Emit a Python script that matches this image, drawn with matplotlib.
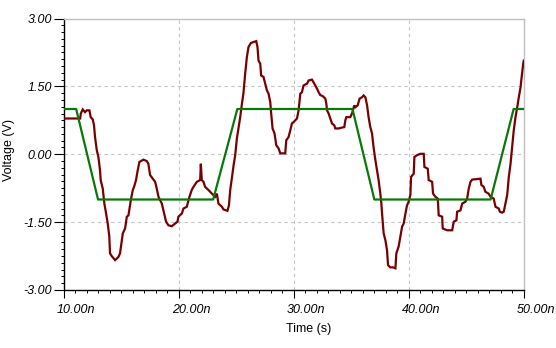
import matplotlib
matplotlib.use("Agg")
import matplotlib.pyplot as plt
from matplotlib.ticker import FixedLocator, MultipleLocator, FuncFormatter
import matplotlib.transforms as mtransforms

# ---- data (time in ns, voltage in V) ----
green_t = [10.0, 11.1, 13.0, 23.0, 25.1, 35.1, 37.0, 47.1, 49.1, 50.0]
green_v = [1.0, 1.0, -1.0, -1.0, 1.0, 1.0, -1.0, -1.0, 1.0, 1.0]

red_t = [10.0, 11.45, 11.50, 11.67, 11.87, 12.02, 12.25, 12.36, 12.54, 12.65, 12.74, 12.89,
         13.03, 13.17, 13.23, 13.41, 13.55, 13.70, 13.84, 13.98, 14.04, 14.19, 14.48, 14.77,
         14.91, 15.15, 15.35, 15.50, 15.64, 15.78, 15.87, 16.02, 16.13, 16.30, 16.42, 16.59,
         16.94, 17.23, 17.37, 17.52, 17.75, 17.96, 18.10, 18.25, 18.54, 18.74, 18.91, 19.11,
         19.41, 19.70, 19.90, 19.98, 20.28, 20.42, 20.71, 20.94, 21.14, 21.29, 21.58, 21.87,
         21.93, 22.01, 22.16, 22.30, 22.59, 22.89, 23.17, 23.32, 23.46, 23.76, 23.90, 24.24,
         24.37, 24.48, 24.63, 24.77, 24.91, 25.06, 25.20, 25.35, 25.50, 25.63, 25.78, 25.93,
         26.07, 26.28, 26.50, 26.74, 26.85, 26.94, 27.09, 27.17, 27.37, 27.52, 27.67, 27.81,
         27.96, 28.04, 28.16, 28.33, 28.48, 28.68, 28.83, 29.26, 29.35, 29.55, 29.70, 29.84,
         29.98, 30.28, 30.42, 30.57, 30.71, 30.85, 31.15, 31.29, 31.58, 31.72, 32.02, 32.16,
         32.30, 32.54, 32.74, 32.83, 32.89, 33.03, 33.17, 33.32, 33.52, 33.61, 33.90, 34.19,
         34.39, 34.48, 34.57, 34.91, 35.06, 35.26, 35.35, 35.55, 35.72, 35.93, 36.07, 36.22,
         36.37, 36.50, 36.65, 36.80, 36.93, 37.09, 37.23, 37.37, 37.52, 37.61, 37.67, 37.81,
         37.96, 38.10, 38.19, 38.39, 38.63, 38.83, 38.91, 39.11, 39.26, 39.41, 39.55, 39.70,
         39.84, 39.98, 40.13, 40.19, 40.42, 40.48, 40.71, 41.00, 41.29, 41.35, 41.64, 41.72,
         42.02, 42.10, 42.30, 42.51, 42.59, 42.89, 42.94, 43.32, 43.76, 43.90, 44.13, 44.19,
         44.48, 44.63, 44.91, 45.06, 45.20, 45.35, 45.50, 46.22, 46.30, 46.50, 46.65, 46.93,
         47.09, 47.37, 47.52, 47.81, 47.90, 48.10, 48.24, 48.39, 48.54, 48.68, 48.83, 48.97,
         49.11, 49.26, 49.41, 49.55, 49.70, 49.78, 49.93, 49.98]
red_v = [0.79, 0.79, 0.90, 0.99, 0.93, 0.97, 0.97, 0.82, 0.77, 0.64, 0.38, 0.09,
         -0.06, -0.35, -0.57, -0.76, -1.09, -1.31, -1.53, -1.82, -2.19, -2.25, -2.34, -2.27,
         -2.19, -1.75, -1.64, -1.38, -1.35, -1.13, -0.98, -0.79, -0.72, -0.57, -0.39, -0.17,
         -0.12, -0.15, -0.21, -0.46, -0.54, -0.61, -0.76, -0.94, -1.09, -1.31, -1.49, -1.57,
         -1.59, -1.53, -1.49, -1.38, -1.31, -1.20, -1.16, -0.94, -0.79, -0.72, -0.61, -0.57,
         -0.21, -0.57, -0.61, -0.72, -0.79, -0.87, -0.94, -0.87, -1.09, -1.16, -1.22, -1.25,
         -1.13, -0.79, -0.52, -0.25, -0.03, 0.35, 0.57, 0.82, 1.12, 1.35, 1.78, 2.15,
         2.37, 2.46, 2.48, 2.50, 2.37, 2.07, 2.00, 1.74, 1.71, 1.56, 1.41, 1.34,
         1.15, 0.90, 0.57, 0.46, 0.20, 0.13, 0.02, 0.02, 0.31, 0.38, 0.53, 0.68,
         0.71, 0.79, 0.97, 1.34, 1.37, 1.52, 1.56, 1.63, 1.65, 1.59, 1.45, 1.37,
         1.31, 1.28, 1.23, 1.12, 0.97, 0.90, 0.79, 0.68, 0.64, 0.57, 0.57, 0.59,
         0.60, 0.75, 0.82, 0.82, 0.90, 1.08, 1.04, 1.08, 1.23, 1.26, 1.30, 1.26,
         1.08, 0.82, 0.60, 0.46, 0.16, -0.13, -0.35, -0.57, -0.87, -1.09, -1.31, -1.75,
         -1.90, -2.12, -2.45, -2.50, -2.50, -2.52, -2.19, -2.04, -1.82, -1.60, -1.53, -1.31,
         -1.13, -1.05, -0.90, -0.50, -0.43, -0.06, -0.02, 0.01, 0.01, -0.28, -0.32, -0.57,
         -0.61, -0.87, -0.94, -0.98, -1.35, -1.38, -1.64, -1.68, -1.68, -1.49, -1.46, -1.27,
         -1.24, -1.09, -1.05, -0.98, -0.76, -0.61, -0.56, -0.54, -0.68, -0.72, -0.83, -0.87,
         -0.94, -0.98, -1.16, -1.20, -1.27, -1.29, -1.27, -1.09, -0.90, -0.50, -0.21, 0.16,
         0.53, 0.82, 1.04, 1.26, 1.48, 1.67, 2.00, 2.07]

x_ticks = [10, 20, 30, 40, 50]
y_ticks = [3.0, 1.5, 0.0, -1.5, -3.0]
x_label = "Time (s)"
y_label = "Voltage (V)"

# ---- figure ----
plt.rcParams['font.family'] = ['Liberation Sans', 'DejaVu Sans']
fig = plt.figure(figsize=(5.56, 3.48), dpi=100)
ax = fig.add_axes([63.5 / 556, 1 - 290 / 348, 460.5 / 556, 271.5 / 348])

ax.plot(red_t, red_v, color='#780000', lw=1.6, solid_joinstyle='miter', zorder=3)
ax.plot(green_t, green_v, color='#087808', lw=1.6, zorder=4)

ax.set_xlim(10, 50)
ax.set_ylim(-3, 3)

ax.xaxis.set_major_locator(FixedLocator(x_ticks))
ax.yaxis.set_major_locator(FixedLocator(y_ticks))
ax.xaxis.set_minor_locator(MultipleLocator(1))
ax.yaxis.set_minor_locator(MultipleLocator(0.15))
ax.xaxis.set_major_formatter(FuncFormatter(lambda v, p: f"{v:.2f}n"))
ax.yaxis.set_major_formatter(FuncFormatter(lambda v, p: f"{v:.2f}"))

ax.grid(True, which='major', color='#c4c4c4', lw=0.8, linestyle=(0, (3, 3)))
ax.set_axisbelow(True)

for s in ['top', 'right']:
    ax.spines[s].set_color('#c0c0c0')
    ax.spines[s].set_linewidth(1.0)
for s in ['left', 'bottom']:
    ax.spines[s].set_color('black')
    ax.spines[s].set_linewidth(1.0)

ax.tick_params(axis='x', which='major', direction='out', length=6, width=0.8,
               color='black', labelsize=9, pad=4)
ax.tick_params(axis='y', which='major', direction='out', length=7, width=0.8,
               color='black', labelsize=9, pad=1)
ax.tick_params(axis='both', which='minor', direction='out', length=2.2, width=0.7,
               color='black')

for lab in ax.get_xticklabels() + ax.get_yticklabels():
    lab.set_fontstyle('italic')

offset = mtransforms.ScaledTranslation(-7 / 100, 0, fig.dpi_scale_trans)
for lab in ax.get_xticklabels():
    lab.set_horizontalalignment('left')
    lab.set_transform(lab.get_transform() + offset)

ax.set_xlabel(x_label, fontsize=9)
ax.xaxis.set_label_coords(0.533, -0.12)
ax.set_ylabel(y_label, fontsize=9)
ax.yaxis.set_label_coords(-0.105, 0.516)

fig.savefig("out.png", dpi=100)
